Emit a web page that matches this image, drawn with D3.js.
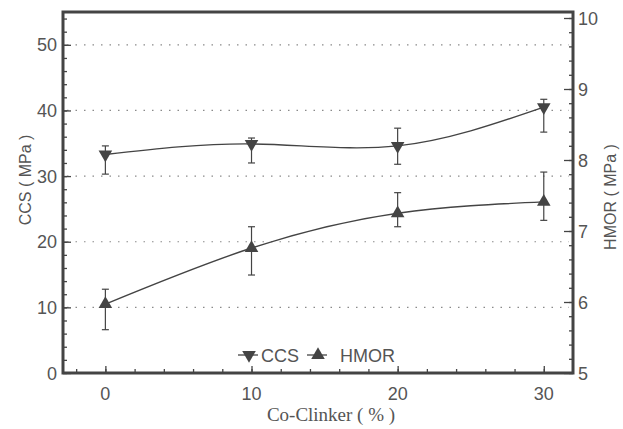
<!DOCTYPE html>
<html><head><meta charset="utf-8">
<script src="https://cdn.jsdelivr.net/npm/d3@7"></script>
<style>
body{margin:0;background:#fff;}
svg{display:block;}
text{font-family:"Liberation Sans",Arial,sans-serif;fill:#555;}
</style></head>
<body><svg id="c" width="623" height="429"></svg>
<script>
const coClinker = [0, 10, 20, 30];
const ccs = [33.3, 34.9, 34.6, 40.5];
const ccsLow = [30.3, 32.0, 31.8, 36.7];
const ccsHigh = [34.6, 35.8, 37.3, 41.7];
const hmor = [5.97, 6.76, 7.25, 7.41];
const hmorLow = [5.61, 6.38, 7.06, 7.15];
const hmorHigh = [6.18, 7.06, 7.54, 7.83];
const xTicks = [0, 10, 20, 30];
const leftTicks = [0, 10, 20, 30, 40, 50];
const rightTicks = [5, 6, 7, 8, 9, 10];
const gridValues = [10, 20, 30, 40, 50];

const svg = d3.select("#c");
const L = 63, R = 573, T = 12, B = 373;
const x = d3.scaleLinear().domain([-2.9, 32]).range([L, R]);
const yL = d3.scaleLinear().domain([0, 55]).range([B, T]);
const yR = d3.scaleLinear().domain([5, 10]).range([B, 18]);
const ink = "#444";

// grid
svg.append("g").selectAll("line").data(gridValues).join("line")
  .attr("x1", L + 4).attr("x2", R - 4)
  .attr("y1", d => yL(d)).attr("y2", d => yL(d))
  .attr("stroke", "#8a8a8a").attr("stroke-width", 1.2)
  .attr("stroke-dasharray", "1.5,7");

// axes (inward ticks)
const tickStyle = g => {
  g.select(".domain").remove();
  g.selectAll("line").attr("stroke", ink).attr("stroke-width", 1.3);
  g.selectAll("text").remove();
};
svg.append("g").attr("transform", `translate(${L},0)`)
  .call(d3.axisRight(yL).tickValues(d3.range(0, 56, 2)).tickSize(4)).call(tickStyle);
svg.append("g").attr("transform", `translate(${L},0)`)
  .call(d3.axisRight(yL).tickValues(leftTicks).tickSize(8)).call(tickStyle);
svg.append("g").attr("transform", `translate(${R},0)`)
  .call(d3.axisLeft(yR).tickValues(d3.range(5, 10.01, 0.2)).tickSize(4)).call(tickStyle);
svg.append("g").attr("transform", `translate(${R},0)`)
  .call(d3.axisLeft(yR).tickValues(rightTicks).tickSize(9)).call(tickStyle);
svg.append("g").attr("transform", `translate(0,${B})`)
  .call(d3.axisTop(x).tickValues(d3.range(-2, 32, 2)).tickSize(4)).call(tickStyle);
svg.append("g").attr("transform", `translate(0,${B})`)
  .call(d3.axisTop(x).tickValues(xTicks).tickSize(7)).call(tickStyle);

// frame
svg.append("rect").attr("x", L).attr("y", T).attr("width", R - L).attr("height", B - T)
  .attr("fill", "none").attr("stroke", ink).attr("stroke-width", 3);

// tick labels
svg.append("g").selectAll("text").data(leftTicks).join("text")
  .attr("x", L - 6).attr("y", d => yL(d) + 6.5).attr("text-anchor", "end")
  .attr("font-size", 18).text(d => d);
svg.append("g").selectAll("text").data(rightTicks).join("text")
  .attr("x", R + 5).attr("y", d => yR(d) + 6.5).attr("text-anchor", "start")
  .attr("font-size", 18).text(d => d);
svg.append("g").selectAll("text").data(xTicks).join("text")
  .attr("x", d => x(d)).attr("y", 400).attr("text-anchor", "middle")
  .attr("font-size", 18).text(d => d);

// axis titles
svg.append("text").attr("transform", "translate(31,180) rotate(-90)")
  .attr("text-anchor", "middle").attr("font-size", 16).text("CCS ( MPa )");
svg.append("text").attr("transform", "translate(616,197) rotate(-90)")
  .attr("text-anchor", "middle").attr("font-size", 16).text("HMOR ( MPa )");
svg.append("text").attr("x", 331).attr("y", 421).attr("text-anchor", "middle")
  .style("font-family", "'Liberation Serif','Times New Roman',serif")
  .attr("font-size", 19).text("Co-Clinker ( % )");

// curves
const lineL = d3.line().x((d, i) => x(coClinker[i])).y(d => yL(d)).curve(d3.curveNatural);
const lineR = d3.line().x((d, i) => x(coClinker[i])).y(d => yR(d)).curve(d3.curveNatural);
svg.append("path").attr("d", lineL(ccs)).attr("fill", "none").attr("stroke", ink).attr("stroke-width", 1.4);
svg.append("path").attr("d", lineR(hmor)).attr("fill", "none").attr("stroke", ink).attr("stroke-width", 1.4);

// error bars
function errorBars(lo, hi, scale) {
  const g = svg.append("g").attr("stroke", ink).attr("stroke-width", 1.2);
  coClinker.forEach((c, i) => {
    const cx = x(c);
    g.append("line").attr("x1", cx).attr("x2", cx).attr("y1", scale(lo[i])).attr("y2", scale(hi[i]));
    g.append("line").attr("x1", cx - 3.5).attr("x2", cx + 3.5).attr("y1", scale(lo[i])).attr("y2", scale(lo[i]));
    g.append("line").attr("x1", cx - 3.5).attr("x2", cx + 3.5).attr("y1", scale(hi[i])).attr("y2", scale(hi[i]));
  });
}
errorBars(ccsLow, ccsHigh, yL);
errorBars(hmorLow, hmorHigh, yR);

// markers
const tri = d3.symbol().type(d3.symbolTriangle).size(80);
svg.append("g").selectAll("path").data(ccs).join("path")
  .attr("d", tri).attr("fill", ink)
  .attr("transform", (d, i) => `translate(${x(coClinker[i])},${yL(d)}) rotate(180)`);
svg.append("g").selectAll("path").data(hmor).join("path")
  .attr("d", tri).attr("fill", ink)
  .attr("transform", (d, i) => `translate(${x(coClinker[i])},${yR(d)})`);

// legend
const leg = [{name: "CCS", rot: 180, mx: 249, tx: 261}, {name: "HMOR", rot: 0, mx: 318, tx: 340}];
leg.forEach(l => {
  svg.append("line").attr("x1", l.mx - 11).attr("x2", l.mx + 9).attr("y1", 355).attr("y2", 355)
    .attr("stroke", ink).attr("stroke-width", 1.3);
  svg.append("path").attr("d", tri).attr("fill", ink)
    .attr("transform", `translate(${l.mx},355) rotate(${l.rot})`);
  svg.append("text").attr("x", l.tx).attr("y", 362).attr("font-size", 18).text(l.name);
});
</script></body></html>
